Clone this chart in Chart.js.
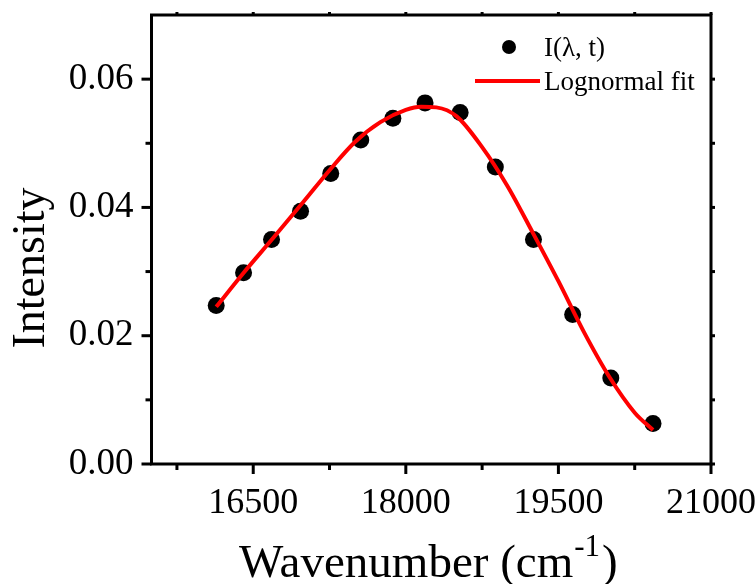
<!DOCTYPE html>
<html>
<head>
<meta charset="utf-8">
<script src="https://cdn.jsdelivr.net/npm/chart.js@4.4.1/dist/chart.umd.min.js"></script>
<style>
html,body{margin:0;padding:0;background:#fff;}
</style>
</head>
<body>
<canvas id="c" width="756" height="584"></canvas>
<script>
// measured intensity points
const waveX = [16136, 16405, 16680, 16965, 17262, 17557, 17873, 18189, 18534, 18880, 19255, 19640, 20015, 20430];
const intensity = [0.0247, 0.0298, 0.0350, 0.0394, 0.0453, 0.0505, 0.0539, 0.0563, 0.0548, 0.0463, 0.0350, 0.0233, 0.0134, 0.0063];

// lognormal fit curve
const fitX = [16136, 16400, 16700, 17000, 17250, 17500, 17750, 18000, 18150, 18300, 18500, 18750, 19000, 19250, 19500, 19750, 20000, 20250, 20430];
const fitY = [0.0245, 0.0297, 0.0353, 0.0410, 0.0458, 0.0502, 0.0533, 0.0552, 0.0557, 0.0556, 0.0542, 0.0494, 0.0433, 0.0360, 0.0285, 0.0206, 0.0136, 0.0080, 0.0053];

// axis ticks
const xTicks = [16500, 18000, 19500, 21000];
const xMinor = [15750, 17250, 18750, 20250];
const yTicks = [0, 0.02, 0.04, 0.06];
const yMinor = [0.01, 0.03, 0.05];

const serif = "'Liberation Serif', 'Times New Roman', serif";

// box + tick marks, drawn from the scales
const framePlugin = {
  id: 'frame',
  afterDraw(chart) {
    const {ctx, chartArea: a, scales: {x, y}} = chart;
    ctx.save();
    ctx.strokeStyle = '#000';
    ctx.lineWidth = 3;
    ctx.strokeRect(a.left, a.top, a.right - a.left, a.bottom - a.top);
    const tick = (x1, y1, x2, y2) => { ctx.beginPath(); ctx.moveTo(x1, y1); ctx.lineTo(x2, y2); ctx.stroke(); };
    xTicks.forEach(v => { const p = x.getPixelForValue(v); tick(p, a.bottom, p, a.bottom + 10); tick(p, a.top, p, a.top - 3); });
    xMinor.forEach(v => { const p = x.getPixelForValue(v); tick(p, a.bottom, p, a.bottom + 6); tick(p, a.top, p, a.top - 3); });
    yTicks.forEach(v => { const p = y.getPixelForValue(v); tick(a.left, p, a.left - 10, p); tick(a.right, p, a.right + 4, p); });
    yMinor.forEach(v => { const p = y.getPixelForValue(v); tick(a.left, p, a.left - 6, p); tick(a.right, p, a.right + 4, p); });
    ctx.restore();
  }
};

// axis titles (x title has a superscript)
const titlePlugin = {
  id: 'titles',
  afterDraw(chart) {
    const ctx = chart.ctx;
    ctx.save();
    ctx.fillStyle = '#000';
    ctx.textBaseline = 'alphabetic';
    ctx.font = '46px ' + serif;
    ctx.save();
    ctx.translate(44, 268);
    ctx.rotate(-Math.PI / 2);
    ctx.textAlign = 'center';
    ctx.fillText('Intensity', 0, 0);
    ctx.restore();

    ctx.textAlign = 'left';
    ctx.font = '47px ' + serif;
    let px = 239;
    const base = 577;
    const main = 'Wavenumber (cm';
    ctx.fillText(main, px, base);
    px += ctx.measureText(main).width;
    ctx.font = '31px ' + serif;
    ctx.fillText('-1', px + 1, base - 21);
    px += ctx.measureText('-1').width + 3;
    ctx.font = '47px ' + serif;
    ctx.fillText(')', px, base);
    ctx.restore();
  }
};

// legend in the top right corner
const legendPlugin = {
  id: 'legendBox',
  afterDraw(chart) {
    const ctx = chart.ctx;
    ctx.save();
    ctx.fillStyle = '#000';
    ctx.beginPath();
    ctx.arc(509, 47, 7, 0, Math.PI * 2);
    ctx.fill();
    ctx.strokeStyle = '#ff0000';
    ctx.lineWidth = 4;
    ctx.beginPath();
    ctx.moveTo(475, 81);
    ctx.lineTo(540, 81);
    ctx.stroke();
    ctx.font = '27px ' + serif;
    ctx.textBaseline = 'alphabetic';
    ctx.fillText('I(\u03bb, t)', 544, 56);
    ctx.fillText('Lognormal fit', 544, 90);
    ctx.restore();
  }
};

// keep the plot box where the reference has it
const noPad = s => { s.paddingTop = 0; s.paddingBottom = 0; s.paddingLeft = 0; s.paddingRight = 0; };

new Chart(document.getElementById('c'), {
  type: 'scatter',
  data: {
    datasets: [
      {
        label: 'Lognormal fit',
        data: fitX.map((v, i) => ({x: v, y: fitY[i]})),
        showLine: true,
        borderColor: '#ff0000',
        borderWidth: 4,
        pointRadius: 0,
        cubicInterpolationMode: 'monotone',
        fill: false
      },
      {
        label: 'I(\u03bb, t)',
        data: waveX.map((v, i) => ({x: v, y: intensity[i]})),
        backgroundColor: '#000',
        borderColor: '#000',
        pointRadius: 8.5,
        borderWidth: 0
      }
    ]
  },
  options: {
    responsive: false,
    animation: false,
    devicePixelRatio: 1,
    layout: {padding: {left: 0, top: 15, right: 45, bottom: 0}},
    plugins: {legend: {display: false}, tooltip: {enabled: false}},
    scales: {
      x: {
        type: 'linear',
        min: 15500,
        max: 21000,
        afterBuildTicks: s => { s.ticks = xTicks.map(v => ({value: v})); },
        afterFit: s => { s.height = 120; noPad(s); },
        grid: {display: false, drawTicks: false},
        border: {display: false},
        ticks: {
          font: {family: serif, size: 36},
          color: '#000',
          padding: 18,
          maxRotation: 0,
          autoSkip: false,
          callback: v => String(v)
        }
      },
      y: {
        type: 'linear',
        min: 0,
        max: 0.07,
        afterBuildTicks: s => { s.ticks = yTicks.map(v => ({value: v})); },
        afterFit: s => { s.width = 151.5; noPad(s); },
        grid: {display: false, drawTicks: false},
        border: {display: false},
        ticks: {
          font: {family: serif, size: 37},
          color: '#000',
          padding: 18,
          callback: v => v.toFixed(2)
        }
      }
    }
  },
  plugins: [framePlugin, titlePlugin, legendPlugin]
});
</script>
</body>
</html>
